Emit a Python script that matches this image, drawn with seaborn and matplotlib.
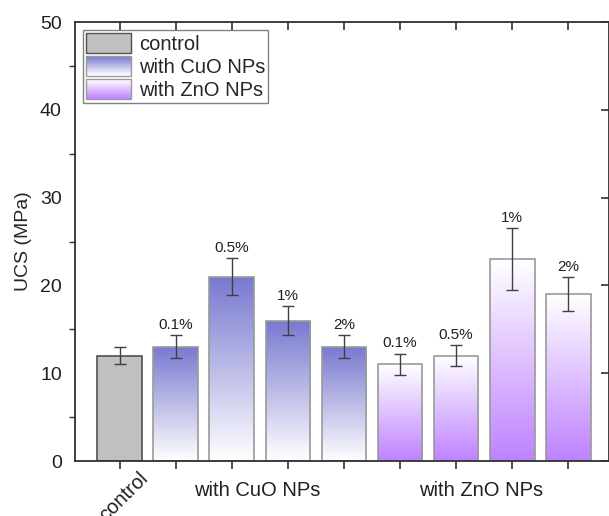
import numpy as np
import pandas as pd
import matplotlib
matplotlib.use("Agg")
import matplotlib.pyplot as plt
import seaborn as sns
from matplotlib.colors import LinearSegmentedColormap
from matplotlib.patches import Rectangle
from matplotlib.legend_handler import HandlerBase

# ---- data ----
bar_ids = ["control", "CuO 0.1", "CuO 0.5", "CuO 1", "CuO 2",
           "ZnO 0.1", "ZnO 0.5", "ZnO 1", "ZnO 2"]
groups = ["control", "with CuO NPs", "with CuO NPs", "with CuO NPs", "with CuO NPs",
          "with ZnO NPs", "with ZnO NPs", "with ZnO NPs", "with ZnO NPs"]
ucs = [12.0, 13.0, 21.0, 16.0, 13.0, 11.0, 12.0, 23.0, 19.0]
err = [1.0, 1.3, 2.1, 1.6, 1.3, 1.2, 1.2, 3.5, 1.9]
pct_labels = ["", "0.1%", "0.5%", "1%", "2%", "0.1%", "0.5%", "1%", "2%"]
group_names = ["control", "with CuO NPs", "with ZnO NPs"]

df = pd.DataFrame({"bar": bar_ids, "group": groups, "UCS": ucs, "err": err})

# ---- style ----
sns.set_style("white")
plt.rcParams["font.family"] = ["Liberation Sans", "DejaVu Sans"]
plt.rcParams["font.size"] = 14

gray = "#c0c0c0"
cuo_top = "#7878d0"
zno_bot = "#be82ff"
cmaps = {
    "control": None,
    "with CuO NPs": LinearSegmentedColormap.from_list("cuo", ["#ffffff", cuo_top]),  # bottom->top
    "with ZnO NPs": LinearSegmentedColormap.from_list("zno", [zno_bot, "#ffffff"]),
}

fig = plt.figure(figsize=(6.09, 5.16), dpi=100)
ax = fig.add_axes([75 / 609, 1 - 461 / 516, (608.5 - 75) / 609, (461 - 22) / 516])

sns.barplot(data=df, x="bar", y="UCS", order=bar_ids, ax=ax, width=0.8,
            color=gray, errorbar=None, saturation=1)

grad = np.linspace(0, 1, 256).reshape(-1, 1)
for patch, g in zip(ax.patches, groups):
    x0, y0 = patch.get_x(), patch.get_y()
    w, h = patch.get_width(), patch.get_height()
    if g == "control":
        patch.set_facecolor(gray)
        patch.set_edgecolor("#505050")
        patch.set_linewidth(1.2)
    else:
        patch.set_facecolor("none")
        patch.set_edgecolor("#9a9a9a")
        patch.set_linewidth(1.2)
        im = ax.imshow(grad, cmap=cmaps[g], origin="lower", aspect="auto",
                       extent=(x0, x0 + w, y0, y0 + h), zorder=patch.get_zorder() - 0.1,
                       interpolation="bilinear")
        im.set_clip_path(patch)

xs = np.arange(len(bar_ids))
ax.errorbar(xs, ucs, yerr=err, fmt="none", ecolor="#404040", elinewidth=1.0,
            capsize=4, capthick=1.0, zorder=5)

for x, v, e, lab in zip(xs, ucs, err, pct_labels):
    if lab:
        ax.annotate(lab, (x, v + e), xytext=(0, 2.5), textcoords="offset points",
                    ha="center", va="bottom", fontsize=11, color="#202020")

ax.set_xlim(-0.8, 8.72)
ax.set_ylim(0, 50)
ax.set_yticks([0, 10, 20, 30, 40, 50])
ax.set_yticks([5, 15, 25, 35, 45], minor=True)
ax.set_xticks(xs)
ax.set_xticklabels([""] * len(xs))
ax.set_xlabel("")
ax.set_ylabel("UCS (MPa)", fontsize=14, labelpad=6)

for s in ax.spines.values():
    s.set_visible(True)
    s.set_color("#303030")
    s.set_linewidth(1.3)

ax.tick_params(axis="both", which="major", direction="out", length=6, width=1.2,
               colors="#303030", labelsize=14, labelcolor="#202020")
ax.tick_params(axis="y", which="minor", direction="out", length=4, width=1.0,
               colors="#303030", left=True)
ax.tick_params(axis="x", which="major", bottom=True, pad=4)

secx = ax.secondary_xaxis("top")
secx.set_xticks(xs)
secx.tick_params(direction="in", length=6, width=1.2, colors="#303030", labeltop=False)
secx.spines["top"].set_visible(False)
secy = ax.secondary_yaxis("right")
secy.set_yticks([0, 10, 20, 30, 40, 50])
secy.tick_params(direction="in", length=6, width=1.2, colors="#303030", labelright=False)
secy.spines["right"].set_visible(False)

# group labels under the axis
trans = ax.get_xaxis_transform()
ax.text(0.33, -0.018, group_names[0], transform=trans, rotation=45,
        ha="right", va="top", rotation_mode="anchor", fontsize=14.5, color="#202020")
ax.text(2.45, -0.045, group_names[1], transform=trans, ha="center", va="top",
        fontsize=14.5, color="#202020")
ax.text(6.45, -0.045, group_names[2], transform=trans, ha="center", va="top",
        fontsize=14.5, color="#202020")

# legend with gradient handles
class GradHandler(HandlerBase):
    def __init__(self, c_bottom, c_top, edge):
        super().__init__()
        self.cb, self.ct, self.edge = c_bottom, c_top, edge

    def create_artists(self, legend, orig_handle, xdescent, ydescent, width,
                       height, fontsize, trans):
        cm = LinearSegmentedColormap.from_list("h", [self.cb, self.ct])
        n = 24
        arts = []
        for i in range(n):
            r = Rectangle((-xdescent, -ydescent + height * i / n), width, height / n + 0.05,
                          facecolor=cm((i + 0.5) / n), edgecolor="none", transform=trans)
            arts.append(r)
        arts.append(Rectangle((-xdescent, -ydescent), width, height, facecolor="none",
                              edgecolor=self.edge, linewidth=1.0, transform=trans))
        return arts

h_ctrl = Rectangle((0, 0), 1, 1)
h_cuo = Rectangle((0, 0), 1, 1)
h_zno = Rectangle((0, 0), 1, 1)
leg = ax.legend([h_ctrl, h_cuo, h_zno], group_names, loc="upper left",
                bbox_to_anchor=(0.008, 0.99), frameon=True, fancybox=False,
                edgecolor="#808080", framealpha=1, fontsize=14.5,
                handlelength=2.2, handleheight=1.1, handletextpad=0.4,
                labelspacing=0.12, borderpad=0.15, borderaxespad=0.2,
                handler_map={h_ctrl: GradHandler(gray, gray, "#505050"),
                             h_cuo: GradHandler("#ffffff", cuo_top, "#9a9a9a"),
                             h_zno: GradHandler(zno_bot, "#ffffff", "#9a9a9a")})
leg.get_frame().set_linewidth(1.0)

fig.savefig("out.png", dpi=100)
